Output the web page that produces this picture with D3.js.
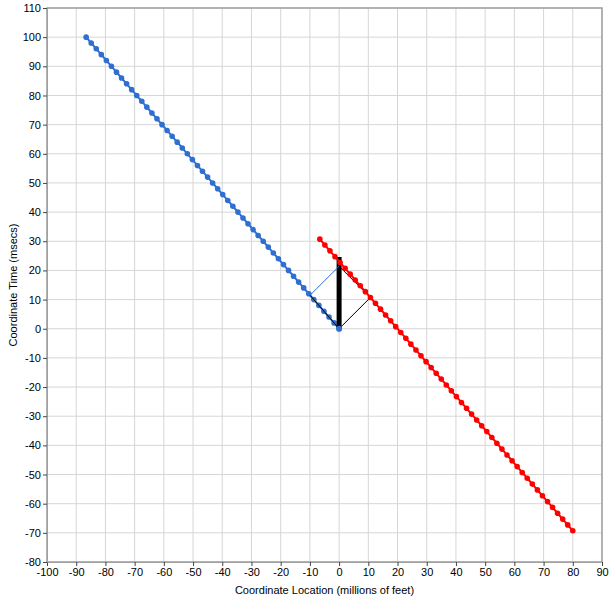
<!DOCTYPE html>
<html>
<head>
<meta charset="utf-8">
<script src="https://cdn.jsdelivr.net/npm/d3@7"></script>
<style>
  body { margin: 0; background: #fff; }
  text { font-family: "Liberation Sans", Arial, sans-serif; font-size: 11px; fill: #000; }
</style>
</head>
<body>
<svg id="chart" width="614" height="600"></svg>
<script>
// Blue worldline (location, time)
var blueX = [0, -1.73, -3.46, -5.20, -6.93, -8.66, -10.39, -12.12, -13.86, -15.59, -17.32, -19.05, -20.78, -22.52, -24.25,
  -25.98, -27.71, -29.44, -31.18, -32.91, -34.64, -36.37, -38.11, -39.84, -41.57, -43.30, -45.03, -46.77, -48.50, -50.23,
  -51.96, -53.69, -55.43, -57.16, -58.89, -60.62, -62.35, -64.09, -65.82, -67.55, -69.28, -71.01, -72.75, -74.48, -76.21,
  -77.94, -79.67, -81.41, -83.14, -84.87, -86.60];
var blueT = [0, 2, 4, 6, 8, 10, 12, 14, 16, 18, 20, 22, 24, 26, 28, 30, 32, 34, 36, 38, 40, 42, 44, 46, 48, 50,
  52, 54, 56, 58, 60, 62, 64, 66, 68, 70, 72, 74, 76, 78, 80, 82, 84, 86, 88, 90, 92, 94, 96, 98, 100];

// Red worldline
var redX = [80, 78.27, 76.54, 74.80, 73.07, 71.34, 69.61, 67.88, 66.14, 64.41, 62.68, 60.95, 59.22, 57.48, 55.75,
  54.02, 52.29, 50.56, 48.82, 47.09, 45.36, 43.63, 41.89, 40.16, 38.43, 36.70, 34.97, 33.24, 31.50, 29.77, 28.04,
  26.31, 24.57, 22.84, 21.11, 19.38, 17.65, 15.91, 14.18, 12.45, 10.72, 8.99, 7.25, 5.52, 3.79, 2.06, 0.33,
  -1.41, -3.14, -4.87, -6.60];
var redT = [-69.28, -67.28, -65.28, -63.28, -61.28, -59.28, -57.28, -55.28, -53.28, -51.28, -49.28, -47.28, -45.28,
  -43.28, -41.28, -39.28, -37.28, -35.28, -33.28, -31.28, -29.28, -27.28, -25.28, -23.28, -21.28, -19.28, -17.28,
  -15.28, -13.28, -11.28, -9.28, -7.28, -5.28, -3.28, -1.28, 0.72, 2.72, 4.72, 6.72, 8.72, 10.72, 12.72, 14.72,
  16.72, 18.72, 20.72, 22.72, 24.72, 26.72, 28.72, 30.72];

// Signals and the stationary worldline
var lightX = [0, 10.72, 0];
var lightT = [0, 10.72, 21.44];
var blueSignalX = [-9.95, 0];
var blueSignalT = [11.49, 21.44];
var blackSegX = [0, -9.95];
var blackSegT = [0, 11.49];
var barX = [0, 0];
var barT = [0, 24.6];

var xTicks = d3.range(-100, 91, 10);
var yTicks = d3.range(-80, 111, 10);

var padLeft = 47, padRight = 602, padTop = 8, padBottom = 562;

var svg = d3.select("#chart");

var xScale = d3.scaleLinear().domain([-100, 90]).range([padLeft, padRight]);
var yScale = d3.scaleLinear().domain([-80, 110]).range([padBottom, padTop]);

// grid
svg.append("g").selectAll("line").data(xTicks).enter().append("line")
  .attr("x1", d => xScale(d)).attr("x2", d => xScale(d))
  .attr("y1", padTop).attr("y2", padBottom)
  .attr("stroke", "#d6d6d6").attr("stroke-width", 1);
svg.append("g").selectAll("line").data(yTicks).enter().append("line")
  .attr("x1", padLeft).attr("x2", padRight)
  .attr("y1", d => yScale(d)).attr("y2", d => yScale(d))
  .attr("stroke", "#d6d6d6").attr("stroke-width", 1);

// frame
svg.append("rect")
  .attr("x", padLeft).attr("y", padTop)
  .attr("width", padRight - padLeft).attr("height", padBottom - padTop)
  .attr("fill", "none").attr("stroke", "#a0a0a0").attr("stroke-width", 1.5);

// axes
var xAxis = d3.axisBottom(xScale).tickValues(xTicks).tickFormat(d => String(d))
  .tickSize(4).tickPadding(2).tickSizeOuter(0);
var yAxis = d3.axisLeft(yScale).tickValues(yTicks).tickFormat(d => String(d))
  .tickSize(4).tickPadding(2).tickSizeOuter(0);

var gx = svg.append("g").attr("transform", "translate(0," + padBottom + ")").call(xAxis);
var gy = svg.append("g").attr("transform", "translate(" + padLeft + ",0)").call(yAxis);
[gx, gy].forEach(function(g) {
  g.select(".domain").attr("stroke", "#a0a0a0");
  g.selectAll(".tick line").attr("stroke", "#444");
  g.selectAll("text").style("font-family", "Liberation Sans, Arial, sans-serif").style("font-size", "11px").attr("fill", "#000");
});

function zip(xs, ts) { return xs.map((x, i) => [x, ts[i]]); }

var line = d3.line().x(d => xScale(d[0])).y(d => yScale(d[1]));

// blue series
var blue = zip(blueX, blueT);
svg.append("path").datum(blue).attr("d", line)
  .attr("fill", "none").attr("stroke", "#2e6fd1").attr("stroke-width", 2);
svg.append("g").selectAll("circle").data(blue).enter().append("circle")
  .attr("cx", d => xScale(d[0])).attr("cy", d => yScale(d[1])).attr("r", 2.8)
  .attr("fill", "#2e6fd1");

// black stuff
svg.append("path").datum(zip(blackSegX, blackSegT)).attr("d", line)
  .attr("fill", "none").attr("stroke", "#000").attr("stroke-width", 1);
svg.append("path").datum(zip(barX, barT)).attr("d", line)
  .attr("fill", "none").attr("stroke", "#000").attr("stroke-width", 5);
svg.append("path").datum(zip(lightX, lightT)).attr("d", line)
  .attr("fill", "none").attr("stroke", "#000").attr("stroke-width", 1);
svg.append("path").datum(zip(blueSignalX, blueSignalT)).attr("d", line)
  .attr("fill", "none").attr("stroke", "#2e6fd1").attr("stroke-width", 1);
svg.append("circle").attr("cx", xScale(0)).attr("cy", yScale(0)).attr("r", 3).attr("fill", "#2e6fd1");

// red series
var red = zip(redX, redT);
svg.append("path").datum(red).attr("d", line)
  .attr("fill", "none").attr("stroke", "#ff0000").attr("stroke-width", 2);
svg.append("g").selectAll("circle").data(red).enter().append("circle")
  .attr("cx", d => xScale(d[0])).attr("cy", d => yScale(d[1])).attr("r", 2.8)
  .attr("fill", "#ff0000");

// axis titles
svg.append("text")
  .attr("x", (padLeft + padRight) / 2).attr("y", 594)
  .style("text-anchor", "middle")
  .text("Coordinate Location (millions of feet)");
svg.append("text")
  .attr("transform", "rotate(-90)")
  .attr("x", -(padTop + padBottom) / 2).attr("y", 17)
  .style("text-anchor", "middle")
  .text("Coordinate Time (msecs)");
</script>
</body>
</html>
